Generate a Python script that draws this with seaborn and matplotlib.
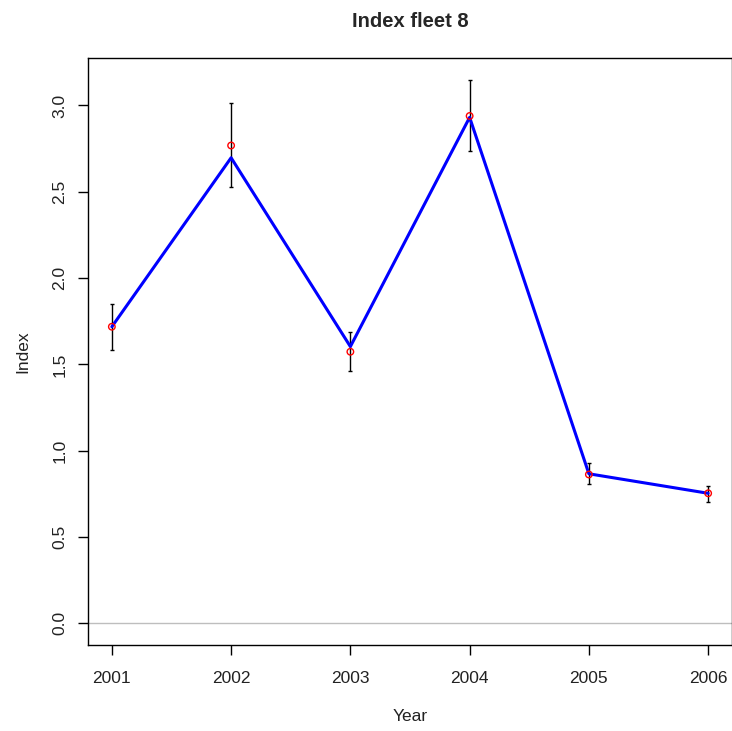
import numpy as np
import pandas as pd
import seaborn as sns
import matplotlib
matplotlib.use("Agg")
import matplotlib.pyplot as plt

years = [2001, 2002, 2003, 2004, 2005, 2006]
observed = [1.718, 2.768, 1.573, 2.939, 0.862, 0.753]
fitted = [1.718, 2.697, 1.603, 2.931, 0.866, 0.753]
lower = [1.584, 2.530, 1.460, 2.737, 0.808, 0.703]
upper = [1.852, 3.017, 1.687, 3.149, 0.926, 0.796]

df = pd.DataFrame({"Year": years, "obs": observed, "fit": fitted,
                   "lo": lower, "hi": upper})

sns.set_theme(style="ticks")
plt.rcParams["font.family"] = ["Liberation Sans", "DejaVu Sans"]

fig = plt.figure(figsize=(7.32, 7.31), dpi=100)
ax = fig.add_axes([88 / 732, 86 / 731, 644 / 732, 587 / 731])

ax.axhline(0, color="#bebebe", lw=1, zorder=0)
ax.errorbar(df["Year"], df["obs"],
            yerr=[df["obs"] - df["lo"], df["hi"] - df["obs"]],
            fmt="none", ecolor="black", elinewidth=1, capsize=1.5, capthick=1)
sns.lineplot(data=df, x="Year", y="fit", color="blue", lw=2.2, ax=ax)
sns.scatterplot(data=df, x="Year", y="obs", marker="o", s=22,
                facecolor="none", edgecolor="red", linewidth=1, ax=ax, zorder=5)

ymax = max(upper)
ax.set_xlim(2000.8, 2006.2)
ax.set_ylim(-0.04 * ymax, 1.04 * ymax)
ax.set_xticks(years)
ax.set_yticks([0.0, 0.5, 1.0, 1.5, 2.0, 2.5, 3.0])
ax.set_yticklabels(["0.0", "0.5", "1.0", "1.5", "2.0", "2.5", "3.0"],
                   rotation=90, va="center")
ax.tick_params(axis="both", direction="out", length=7, width=1, color="black",
               labelsize=12.5, labelcolor="#222222")
ax.tick_params(axis="x", pad=12)
ax.tick_params(axis="y", pad=8)
for s in ax.spines.values():
    s.set_color("black")
    s.set_linewidth(1)

ax.set_xlabel("Year", fontsize=12.5, labelpad=16, color="#222222")
ax.set_ylabel("Index", fontsize=12.5, labelpad=16, color="#222222")
ax.set_title("Index fleet 8", fontsize=14.5, fontweight="bold", pad=22)

fig.savefig("out.png", dpi=100)
